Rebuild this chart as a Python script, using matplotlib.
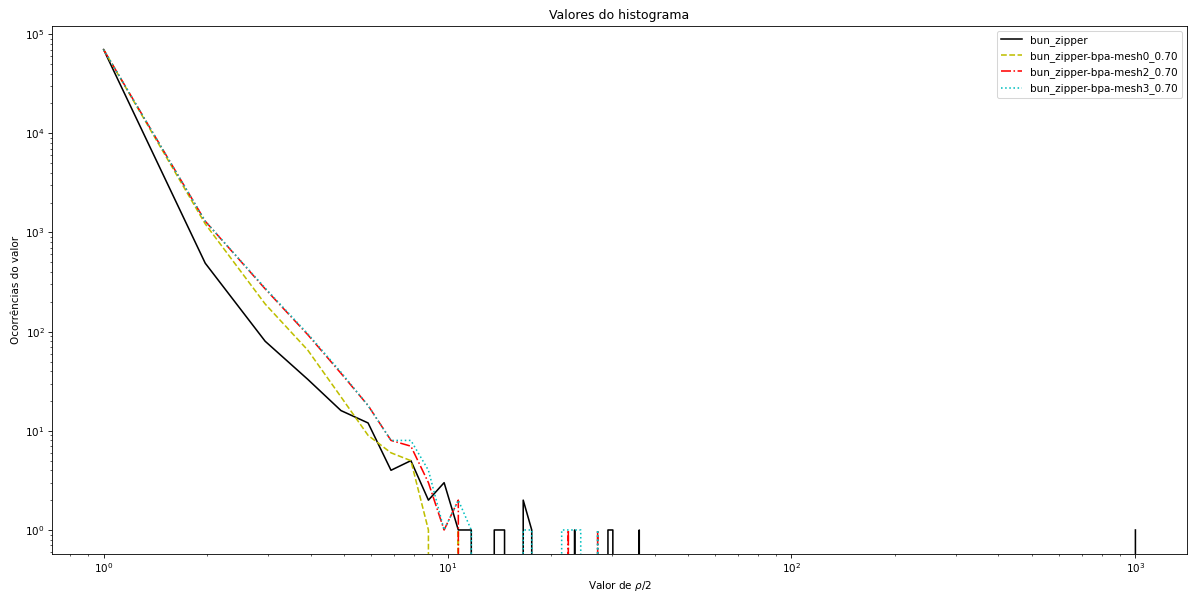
import numpy as np
import matplotlib
matplotlib.use("Agg")
import matplotlib.pyplot as plt

# Histogram bins of rho/2: left edges start at 1 with a width of 0.975
bin_start = 1.0
bin_width = 0.975
n_bins = 1026

# Non-zero counts (bin number -> occurrences) for each series
bun_zipper = {1: 70000, 2: 490, 3: 80, 4: 33, 5: 16, 6: 12, 7: 4, 8: 5, 9: 2,
              10: 3, 11: 1, 12: 1, 14: 1, 15: 1, 17: 2, 18: 1, 24: 1,
              30: 1, 31: 1, 37: 1, 1026: 1}
mesh0 = {1: 70000, 2: 1220, 3: 190, 4: 65, 5: 22, 6: 9, 7: 6, 8: 5, 9: 1,
         11: 1}
mesh2 = {1: 70000, 2: 1300, 3: 270, 4: 93, 5: 38, 6: 18, 7: 8, 8: 7, 9: 3,
         10: 1, 11: 2, 23: 1, 28: 1}
mesh3 = {1: 70000, 2: 1300, 3: 275, 4: 95, 5: 39, 6: 18, 7: 8, 8: 8, 9: 4,
         10: 1, 11: 2, 12: 1, 17: 1, 18: 1, 22: 1, 23: 1, 24: 1, 25: 1, 28: 1}

labels = ["bun_zipper", "bun_zipper-bpa-mesh0_0.70",
          "bun_zipper-bpa-mesh2_0.70", "bun_zipper-bpa-mesh3_0.70"]
styles = ["k-", "y--", "r-.", "c:"]

x = bin_start + bin_width * np.arange(n_bins)


def to_array(d):
    arr = np.zeros(n_bins)
    for k, v in d.items():
        arr[k - 1] = v
    return arr


DPI = 75
fig = plt.figure(figsize=(1188 / DPI, 594 / DPI), dpi=DPI)
ax = fig.add_subplot(111)
fig.subplots_adjust(left=52 / 1188, right=1187 / 1188,
                    top=1 - 25.5 / 594, bottom=1 - 554 / 594)

for d, st, lab in zip([bun_zipper, mesh0, mesh2, mesh3], styles, labels):
    ax.loglog(x, to_array(d), st, label=lab)

ax.set_title("Valores do histograma")
ax.set_xlabel(r"Valor de $\rho/2$")
ax.set_ylabel("Ocorrências do valor")
ax.legend(loc="upper right")

fig.savefig("out.png", dpi=DPI)
